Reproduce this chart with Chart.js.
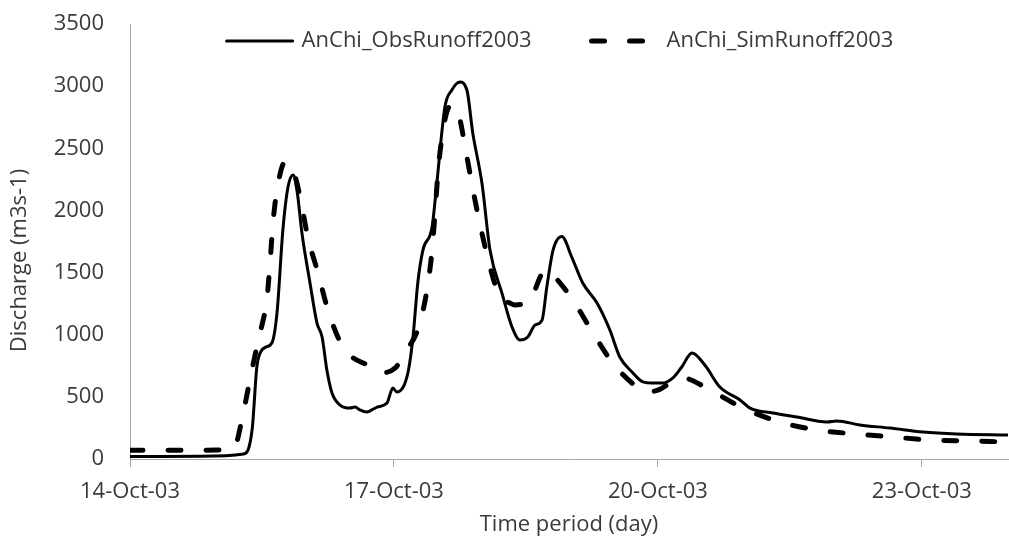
<!DOCTYPE html>
<html>
<head>
<meta charset="utf-8">
<script src="https://cdn.jsdelivr.net/npm/chart.js@4"></script>
<style>
  html, body { margin: 0; padding: 0; background: #ffffff; }
  #wrap { width: 1009px; height: 541px; position: relative; }
</style>
</head>
<body>
<div id="wrap"><canvas id="c" width="1009" height="541"></canvas></div>
<script>
// Time in hours since 14-Oct-03 00:00
const obsHours = [0, 19, 31, 33.3, 34.6, 35.5, 37, 38.7, 40.1, 41.7, 43.1, 44.5, 45.6, 46.9, 49.1, 51, 52.4, 53.7, 55.1, 57.3, 60, 61.4, 62.7, 64.6, 67.4, 70.1, 71.7, 72.8, 75.8, 77.2, 78.5, 79.9, 82.4, 83.7, 85.9, 87.8, 90, 91.9, 93.5, 96, 98.2, 101.5, 104.2, 106.4, 108.5, 110.5, 112.4, 113.7, 115.4, 117.8, 120.5, 123.5, 127.4, 130.9, 133.6, 137.2, 139.9, 142.6, 145.4, 148.1, 150.5, 153.3, 156.8, 160.9, 166.4, 169.1, 175.4, 181.9, 190.1, 192.8, 199.1, 207.3, 216.3, 225.5, 239.5];
const obsRunoff = [20, 22, 40, 233, 740, 853, 900, 933, 1175, 1842, 2188, 2285, 2150, 1818, 1416, 1094, 982, 716, 531, 434, 410, 418, 395, 378, 418, 450, 571, 539, 692, 982, 1416, 1681, 1867, 2220, 2832, 2969, 3033, 2969, 2623, 2220, 1681, 1330, 1062, 957, 982, 1078, 1118, 1384, 1681, 1790, 1625, 1416, 1255, 1038, 821, 692, 620, 611, 611, 652, 740, 853, 756, 579, 475, 410, 370, 338, 298, 306, 274, 249, 217, 201, 193];

const simHours = [0, 26.5, 28.6, 30.5, 32.7, 34.6, 35.5, 37.4, 38.2, 39, 40.1, 42.3, 44.5, 46.4, 48.5, 51.3, 54, 58.1, 65.5, 67.6, 72.3, 75, 79.1, 81.3, 82.4, 83.2, 84, 85.1, 86.5, 87.8, 89.5, 91.9, 94.1, 96, 98.2, 100.9, 103.6, 105, 107.7, 109.6, 110.5, 112.6, 113.7, 115.4, 120.8, 126.3, 131.7, 138.3, 141, 144.5, 147.3, 150.8, 158.2, 167.2, 177.3, 187.4, 198.3, 208.1, 218.2, 229.1, 239.5];
const simRunoff = [70, 72, 97, 314, 636, 901, 1014, 1303, 1577, 1899, 2164, 2390, 2325, 2108, 1786, 1496, 1199, 901, 740, 692, 732, 853, 1094, 1416, 1681, 1979, 2301, 2591, 2800, 2850, 2792, 2430, 2084, 1818, 1545, 1303, 1255, 1239, 1250, 1279, 1360, 1505, 1521, 1480, 1279, 1014, 772, 579, 539, 560, 611, 652, 555, 410, 298, 233, 201, 177, 153, 145, 137];

const xTickHours = [0, 72, 144, 216];
const xTickLabels = ['14-Oct-03', '17-Oct-03', '20-Oct-03', '23-Oct-03'];
const yTickValues = [0, 500, 1000, 1500, 2000, 2500, 3000, 3500];

const seriesNames = ['AnChi_ObsRunoff2003', 'AnChi_SimRunoff2003'];
const yTitle = 'Discharge (m3s-1)';
const xTitle = 'Time period (day)';

const FONT = '"Open Sans", "Noto Sans", sans-serif';
const FSIZE = 22;
const TEXT = '#3a3a3a';
const AXIS = '#a6a6a6';

const toPts = (xs, ys) => xs.map((x, i) => ({ x: x, y: ys[i] }));

const inlineLegend = {
  id: 'inlineLegend',
  afterDraw(chart) {
    const ctx = chart.ctx;
    const area = chart.chartArea;
    const sample = 70, gap = 7, itemGap = 58;
    ctx.save();
    ctx.font = FSIZE + 'px ' + FONT;
    const ds = chart.data.datasets;
    const widths = ds.map(d => sample + gap + ctx.measureText(d.label).width);
    const total = widths.reduce((a, b) => a + b, 0) + itemGap * (ds.length - 1);
    let x = (area.left + area.right) / 2 - total / 2 - 10;
    const y = area.top + 17;
    ds.forEach((d, i) => {
      ctx.beginPath();
      ctx.strokeStyle = d.borderColor;
      ctx.lineWidth = d.borderWidth;
      ctx.lineCap = d.borderCapStyle || 'butt';
      ctx.setLineDash(d.borderDash || []);
      ctx.moveTo(x + 2, y);
      ctx.lineTo(x + sample - 2, y);
      ctx.stroke();
      ctx.setLineDash([]);
      ctx.fillStyle = TEXT;
      ctx.textBaseline = 'middle';
      ctx.textAlign = 'left';
      ctx.fillText(d.label, x + sample + gap, y);
      x += widths[i] + itemGap;
    });
    // Y-axis title, placed a little below the plot's vertical middle as in the source
    ctx.translate(20, (area.top + area.bottom) / 2 + 19);
    ctx.rotate(-Math.PI / 2);
    ctx.textAlign = 'center';
    ctx.textBaseline = 'middle';
    ctx.fillStyle = TEXT;
    ctx.fillText(yTitle, 0, 0);
    ctx.restore();
  }
};

new Chart(document.getElementById('c'), {
  type: 'line',
  data: {
    datasets: [
      {
        label: seriesNames[0],
        data: toPts(obsHours, obsRunoff),
        borderColor: '#000000',
        borderWidth: 3,
        pointRadius: 0,
        cubicInterpolationMode: 'monotone',
        borderJoinStyle: 'round',
        borderCapStyle: 'round',
        fill: false
      },
      {
        label: seriesNames[1],
        data: toPts(simHours, simRunoff),
        borderColor: '#000000',
        borderWidth: 5,
        borderDash: [13, 25],
        borderCapStyle: 'round',
        pointRadius: 0,
        cubicInterpolationMode: 'monotone',
        fill: false
      }
    ]
  },
  options: {
    responsive: false,
    animation: false,
    devicePixelRatio: 1,
    layout: { padding: { top: 24, right: 1, left: 0, bottom: 0 } },
    plugins: {
      legend: { display: false },
      tooltip: { enabled: false }
    },
    scales: {
      x: {
        type: 'linear',
        min: 0,
        max: 239.5,
        afterFit: s => { s.height = 82; s.paddingLeft = 0; s.paddingRight = 0; },
        afterBuildTicks: s => { s.ticks = xTickHours.map(v => ({ value: v })); },
        ticks: {
          autoSkip: false,
          maxRotation: 0,
          padding: 12,
          color: TEXT,
          font: { family: FONT, size: FSIZE },
          callback: (v) => { const i = xTickHours.indexOf(v); return i >= 0 ? xTickLabels[i] : ''; }
        },
        grid: { display: true, drawOnChartArea: false, drawTicks: true, tickLength: 8, color: AXIS, lineWidth: 1 },
        border: { display: true, color: AXIS, width: 1 },
        title: {
          display: true,
          text: xTitle,
          color: TEXT,
          font: { family: FONT, size: FSIZE },
          padding: { top: 0, bottom: 3 }
        }
      },
      y: {
        min: 0,
        max: 3500,
        afterFit: s => { s.width = 130; s.paddingTop = 0; s.paddingBottom = 0; },
        afterBuildTicks: s => { s.ticks = yTickValues.map(v => ({ value: v })); },
        ticks: {
          padding: 26,
          color: TEXT,
          font: { family: FONT, size: FSIZE },
          callback: (v) => String(v)
        },
        grid: { display: false, drawTicks: false },
        border: { display: true, color: AXIS, width: 1 },
        title: { display: false }
      }
    }
  },
  plugins: [inlineLegend]
});
</script>
</body>
</html>
